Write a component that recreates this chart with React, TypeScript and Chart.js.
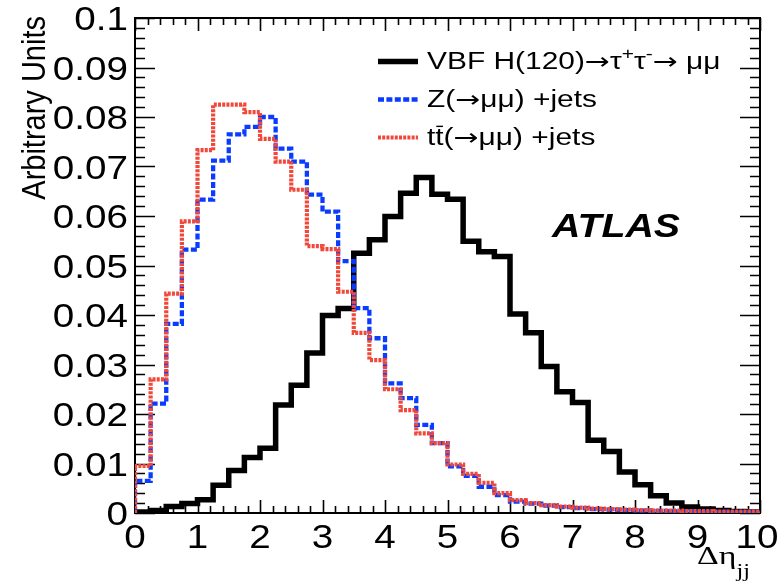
import { useEffect, useRef } from "react";
import { Chart, registerables } from "chart.js";
Chart.register(...registerables);

// Bin edges of the Δη_jj histograms (40 bins of width 0.25)
const BIN_EDGES = [
  0, 0.25, 0.5, 0.75, 1, 1.25, 1.5, 1.75, 2, 2.25, 2.5, 2.75, 3, 3.25, 3.5, 3.75,
  4, 4.25, 4.5, 4.75, 5, 5.25, 5.5, 5.75, 6, 6.25, 6.5, 6.75, 7, 7.25, 7.5, 7.75,
  8, 8.25, 8.5, 8.75, 9, 9.25, 9.5, 9.75, 10,
];

const VBF_VALUES = [
  0.0002, 0.0005, 0.0013, 0.0019, 0.0027, 0.0056, 0.0086, 0.0112, 0.0131, 0.0218,
  0.0258, 0.0323, 0.0399, 0.0413, 0.0525, 0.0552, 0.0599, 0.0646, 0.0678, 0.0644,
  0.0634, 0.0549, 0.0528, 0.0518, 0.0402, 0.0364, 0.0296, 0.0245, 0.0223, 0.0147,
  0.0124, 0.0083, 0.0057, 0.0035, 0.002, 0.0012, 0.0008, 0.0005, 0.0003, 0.0002,
];

const ZJETS_VALUES = [
  0.0065, 0.0221, 0.0382, 0.0532, 0.0633, 0.0712, 0.0765, 0.078, 0.08, 0.0736,
  0.071, 0.0643, 0.0609, 0.0509, 0.0414, 0.0353, 0.0262, 0.0232, 0.0178, 0.0141,
  0.0094, 0.0075, 0.0053, 0.0036, 0.0023, 0.0019, 0.0015, 0.0012, 0.001, 0.0008,
  0.0007, 0.0006, 0.0005, 0.0004, 0.0003, 0.0003, 0.0002, 0.0002, 0.0001, 0.0001,
];

const TTBAR_VALUES = [
  0.0095, 0.027, 0.0443, 0.0589, 0.0733, 0.0825, 0.0825, 0.081, 0.0756, 0.071,
  0.0653, 0.0539, 0.0533, 0.0447, 0.0364, 0.0309, 0.025, 0.0208, 0.0161, 0.0141,
  0.0098, 0.0079, 0.0061, 0.004, 0.0026, 0.002, 0.0016, 0.0013, 0.0011, 0.0009,
  0.0008, 0.0007, 0.0006, 0.0005, 0.0005, 0.0004, 0.0004, 0.0003, 0.0003, 0.0003,
];

const SERIES_LABELS = [
  "VBF H(120)→τ^{+}τ^{-}→ μμ",
  "Z(→μμ) +jets",
  "t#bar{t}(→μμ) +jets",
];

const X_TICKS = [0, 1, 2, 3, 4, 5, 6, 7, 8, 9, 10];
const X_TICK_LABELS = ["0", "1", "2", "3", "4", "5", "6", "7", "8", "9", "10"];
const Y_TICKS = [0, 0.01, 0.02, 0.03, 0.04, 0.05, 0.06, 0.07, 0.08, 0.09, 0.1];
const Y_TICK_LABELS = ["0", "0.01", "0.02", "0.03", "0.04", "0.05", "0.06", "0.07", "0.08", "0.09", "0.1"];
const X_TITLE = "Δη_{jj}";
const Y_TITLE = "Arbitrary Units";
const EXPERIMENT = "ATLAS";

const SANS = '"Liberation Sans", Arial, Helvetica, sans-serif';
const SERIF = '"Liberation Serif", "Times New Roman", serif';
const ARROW_FONT = '"DejaVu Sans", sans-serif';

type Seg = { t: string; kind: "n" | "sup" | "sub" | "bar" };

function parseLatex(s: string): Seg[] {
  const segs: Seg[] = [];
  let buf = "";
  let i = 0;
  const flush = () => {
    if (buf) {
      segs.push({ t: buf, kind: "n" });
      buf = "";
    }
  };
  while (i < s.length) {
    if (s.startsWith("^{", i) || s.startsWith("_{", i) || s.startsWith("#bar{", i)) {
      flush();
      const kind: Seg["kind"] = s[i] === "^" ? "sup" : s[i] === "_" ? "sub" : "bar";
      const start = s.indexOf("{", i) + 1;
      const end = s.indexOf("}", start);
      segs.push({ t: s.slice(start, end), kind });
      i = end + 1;
    } else {
      buf += s[i];
      i++;
    }
  }
  flush();
  return segs;
}

// split a string into runs, arrows use a font with a long arrow glyph
function runs(t: string): { s: string; arrow: boolean }[] {
  const out: { s: string; arrow: boolean }[] = [];
  for (const ch of Array.from(t)) {
    const arrow = ch === "→";
    const last = out[out.length - 1];
    if (last && last.arrow === arrow) last.s += ch;
    else out.push({ s: ch, arrow });
  }
  return out;
}

function segSize(seg: Seg, size: number, subSize: number) {
  if (seg.kind === "sup") return size * 0.7;
  if (seg.kind === "sub") return size * subSize;
  return size;
}

function richWidth(ctx: CanvasRenderingContext2D, segs: Seg[], size: number, style: string, family: string, sx: number, subSize = 0.7) {
  let w = 0;
  for (const seg of segs) {
    const fs = segSize(seg, size, subSize);
    for (const r of runs(seg.t)) {
      ctx.font = `${style} ${fs}px ${r.arrow ? ARROW_FONT : family}`;
      w += ctx.measureText(r.s).width;
    }
  }
  return w * sx;
}

function drawRich(
  ctx: CanvasRenderingContext2D,
  segs: Seg[],
  x: number,
  y: number,
  size: number,
  style: string,
  family: string,
  sx: number,
  subSize = 0.7,
  subDy = 0.55
) {
  ctx.save();
  ctx.translate(x, y);
  ctx.scale(sx, 1);
  ctx.textAlign = "left";
  ctx.textBaseline = "alphabetic";
  let cx = 0;
  for (const seg of segs) {
    const fs = segSize(seg, size, subSize);
    let dy = 0;
    if (seg.kind === "sup") dy = -size * 0.42;
    else if (seg.kind === "sub") dy = size * subDy;
    const startX = cx;
    for (const r of runs(seg.t)) {
      ctx.font = `${style} ${fs}px ${r.arrow ? ARROW_FONT : family}`;
      ctx.fillText(r.s, cx, dy);
      cx += ctx.measureText(r.s).width;
    }
    if (seg.kind === "bar") {
      const w = cx - startX;
      ctx.fillRect(startX + w * 0.12, dy - size * 0.84, w * 0.8, Math.max(1.2, size * 0.06));
    }
  }
  ctx.restore();
}

function histPoints(values: number[]) {
  const pts = [{ x: BIN_EDGES[0], y: 0 }];
  values.forEach((v, i) => pts.push({ x: BIN_EDGES[i], y: v }));
  pts.push({ x: BIN_EDGES[BIN_EDGES.length - 1], y: values[values.length - 1] });
  pts.push({ x: BIN_EDGES[BIN_EDGES.length - 1], y: 0 });
  return pts;
}

const rootStylePlugin = {
  id: "rootStyle",
  beforeDatasetsDraw(chart: any) {
    const { ctx, chartArea: a, scales } = chart;
    const xs = scales.x;
    const ys = scales.y;
    ctx.save();
    ctx.strokeStyle = "#000";
    ctx.lineWidth = 2;
    ctx.strokeRect(a.left, a.top, a.right - a.left, a.bottom - a.top);
    ctx.lineWidth = 1.6;
    ctx.beginPath();
    // x ticks (bottom & top), minor every 0.2
    for (let k = 0; k <= 50; k++) {
      const v = k * 0.2;
      const px = Math.round(xs.getPixelForValue(v)) + 0.5;
      const len = k % 5 === 0 ? 13 : 7;
      ctx.moveTo(px, a.bottom);
      ctx.lineTo(px, a.bottom - len);
      ctx.moveTo(px, a.top);
      ctx.lineTo(px, a.top + len);
    }
    // y ticks (left & right), minor every 0.002
    for (let k = 0; k <= 50; k++) {
      const v = k * 0.002;
      const py = Math.round(ys.getPixelForValue(v)) + 0.5;
      const len = k % 5 === 0 ? 20 : 10;
      ctx.moveTo(a.left, py);
      ctx.lineTo(a.left + len, py);
      ctx.moveTo(a.right, py);
      ctx.lineTo(a.right - len, py);
    }
    ctx.stroke();
    ctx.restore();
  },
  afterDraw(chart: any) {
    const { ctx, chartArea: a, scales } = chart;
    const xs = scales.x;
    const ys = scales.y;
    ctx.save();
    ctx.fillStyle = "#000";
    const tickSize = 33;
    const tickSx = 1.17;
    // y tick labels
    Y_TICKS.forEach((v, i) => {
      const segs = parseLatex(Y_TICK_LABELS[i]);
      const w = richWidth(ctx, segs, tickSize, "", SANS, tickSx);
      const py = ys.getPixelForValue(v);
      drawRich(ctx, segs, a.left - 7 - w, py + 12, tickSize, "", SANS, tickSx);
    });
    // x tick labels
    X_TICKS.forEach((v, i) => {
      const segs = parseLatex(X_TICK_LABELS[i]);
      const w = richWidth(ctx, segs, tickSize, "", SANS, tickSx);
      const px = xs.getPixelForValue(v);
      drawRich(ctx, segs, px - w / 2 - (i === X_TICKS.length - 1 ? 3 : 0), a.bottom + 35, tickSize, "", SANS, tickSx);
    });
    // y title (rotated)
    ctx.save();
    ctx.translate(45, 16);
    ctx.rotate(-Math.PI / 2);
    ctx.scale(1, 1.12);
    ctx.font = `29px ${SANS}`;
    ctx.textAlign = "right";
    ctx.textBaseline = "alphabetic";
    ctx.fillText(Y_TITLE, 0, 0);
    ctx.restore();
    // x title
    const xt = parseLatex(X_TITLE);
    drawRich(ctx, xt, 697, 564, 26, "", SERIF, 1.3, 0.72, 0.5);

    // legend
    const datasets = chart.data.datasets;
    const rowsY = [61.5, 99.5, 137.5];
    [0, 1, 2].forEach((di, r) => {
      const ds = datasets.find((d: any) => d.legendIndex === di);
      const y = rowsY[r];
      ctx.save();
      ctx.strokeStyle = ds.borderColor;
      ctx.lineWidth = ds.borderWidth;
      ctx.setLineDash(ds.borderDash || []);
      ctx.lineCap = "butt";
      ctx.beginPath();
      ctx.moveTo(378, y);
      ctx.lineTo(418, y);
      ctx.stroke();
      ctx.restore();
      drawRich(ctx, parseLatex(ds.label), 427, y + 7.5, 23, "", SANS, 1.3);
    });

    // experiment label
    drawRich(ctx, parseLatex(EXPERIMENT), 552, 237, 33, "italic bold", SANS, 1.19);
    ctx.restore();
  },
};

export default function App() {
  const canvasRef = useRef<HTMLCanvasElement | null>(null);

  useEffect(() => {
    const canvas = canvasRef.current;
    if (!canvas) return;
    const chart = new Chart(canvas, {
      type: "line",
      data: {
        datasets: [
          {
            label: SERIES_LABELS[0],
            legendIndex: 0,
            data: histPoints(VBF_VALUES),
            borderColor: "#000000",
            borderWidth: 5.5,
            stepped: "before",
            order: 3,
            fill: false,
          } as any,
          {
            label: SERIES_LABELS[1],
            legendIndex: 1,
            data: histPoints(ZJETS_VALUES),
            borderColor: "#0a3cff",
            borderWidth: 4.3,
            borderDash: [6, 2.4],
            stepped: "before",
            order: 2,
            fill: false,
          } as any,
          {
            label: SERIES_LABELS[2],
            legendIndex: 2,
            data: histPoints(TTBAR_VALUES),
            borderColor: "#f0483a",
            borderWidth: 4.2,
            borderDash: [3, 1.2],
            stepped: "before",
            order: 1,
            fill: false,
          } as any,
        ],
      },
      options: {
        animation: false,
        responsive: false,
        maintainAspectRatio: false,
        parsing: false as any,
        normalized: true,
        layout: { padding: { left: 135, right: 18, top: 18, bottom: 69 } },
        plugins: {
          legend: { display: false },
          tooltip: { enabled: false },
        },
        elements: {
          point: { radius: 0, hoverRadius: 0 },
          line: { borderCapStyle: "butt", borderJoinStyle: "miter", tension: 0 },
        },
        scales: {
          x: { type: "linear", min: 0, max: 10, display: false },
          y: { type: "linear", min: 0, max: 0.1, display: false },
        },
      },
      plugins: [rootStylePlugin],
    });
    return () => chart.destroy();
  }, []);

  return (
    <div style={{ position: "fixed", left: 0, top: 0, width: 778, height: 582, background: "#fff" }}>
      <canvas ref={canvasRef} width={778} height={582} style={{ display: "block", width: 778, height: 582 }} />
    </div>
  );
}
